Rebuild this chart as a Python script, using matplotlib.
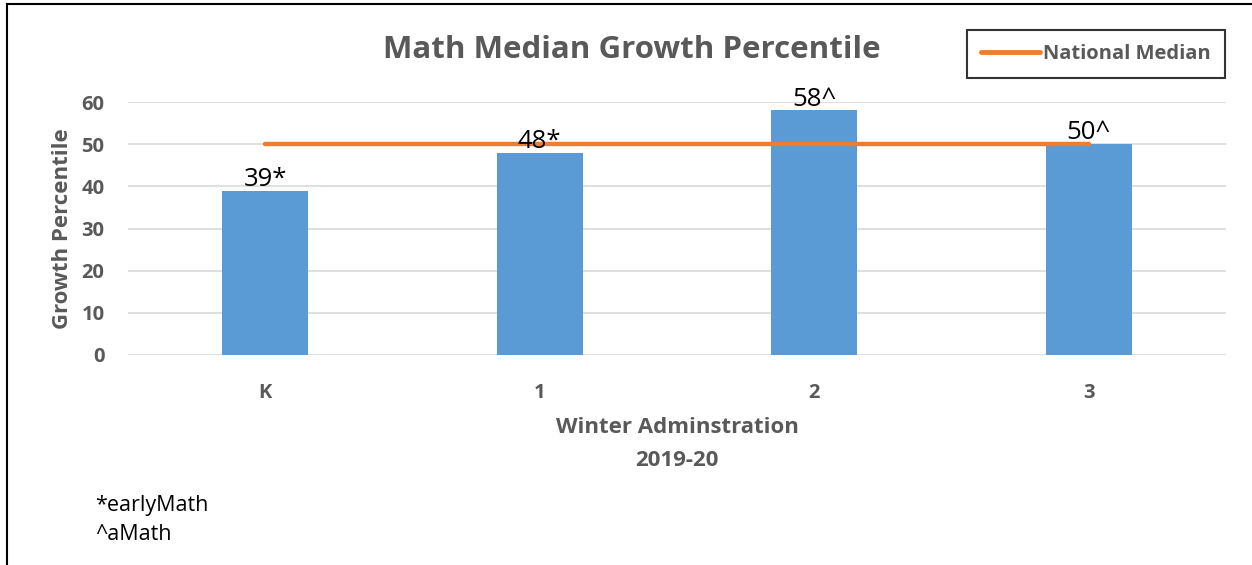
import numpy as np
import matplotlib.pyplot as plt
from matplotlib.lines import Line2D

plt.rcParams['font.family'] = ['Open Sans', 'DejaVu Sans']

grades = ['K', '1', '2', '3']
growth = [39, 48, 58, 50]
labels = ['39*', '48*', '58^', '50^']
national_median = [50, 50, 50, 50]

gray = '#595959'
fig = plt.figure(figsize=(12.52, 5.65), dpi=100)
ax = fig.add_axes([128 / 1252, 1 - 355 / 565, 1098 / 1252, 253 / 565])

x = np.arange(len(grades))
ax.bar(x, growth, width=0.313, color='#5B9BD5', zorder=2)
ax.plot(x, national_median, color='#ED7D31', lw=3.2, solid_capstyle='round', zorder=3)
for xi, v, t in zip(x, growth, labels):
    ax.text(xi, v - 0.3, t, ha='center', va='bottom', fontsize=18.5, color='black', zorder=4)

ax.set_xlim(-0.5, 3.5)
ax.set_ylim(0, 60)
ax.set_yticks(range(0, 61, 10))
ax.set_xticks(x)
ax.set_xticklabels(grades)
ax.yaxis.grid(True, color='#D9D9D9', lw=1.2, zorder=0)
ax.set_axisbelow(True)
for s in ax.spines.values():
    s.set_visible(False)
ax.tick_params(length=0, colors=gray, labelsize=14.5)
for lab in ax.get_xticklabels() + ax.get_yticklabels():
    lab.set_fontweight('bold')
ax.tick_params(axis='y', pad=17)
ax.tick_params(axis='x', pad=20)

ax.set_ylabel('Growth Percentile', fontsize=16, fontweight='bold', color=gray, labelpad=6)
ax.set_xlabel('Winter Adminstration\n2019-20', fontsize=16, fontweight='bold', color=gray,
              labelpad=10, linespacing=1.75)

fig.text(632 / 1252, 1 - 50 / 565, 'Math Median Growth Percentile', ha='center', va='center',
         fontsize=22.5, fontweight='bold', color=gray)

leg = fig.legend([Line2D([], [], color='#ED7D31', lw=3.5, solid_capstyle='round')], ['National Median'],
                 loc='center', bbox_to_anchor=(1096 / 1252, 1 - 54 / 565), frameon=True,
                 prop={'weight': 'bold', 'size': 14.5}, handlelength=2.9, handletextpad=0.15,
                 fancybox=False, borderpad=0.7, borderaxespad=0)
leg.get_frame().set_edgecolor('black')
leg.get_frame().set_linewidth(1.5)
for t in leg.get_texts():
    t.set_color(gray)

fig.text(95 / 1252, 1 - 505 / 565, '*earlyMath', ha='left', va='center', fontsize=15.5)
fig.text(95 / 1252, 1 - 535 / 565, '^aMath', ha='left', va='center', fontsize=15.5)

# outer frame lines (top and left)
fig.add_artist(Line2D([7 / 1252, 7 / 1252], [0, 1 - 4 / 565], color='black', lw=1.5))
fig.add_artist(Line2D([7 / 1252, 1], [1 - 4 / 565, 1 - 4 / 565], color='black', lw=1.5))

fig.savefig('out.png', dpi=100)
